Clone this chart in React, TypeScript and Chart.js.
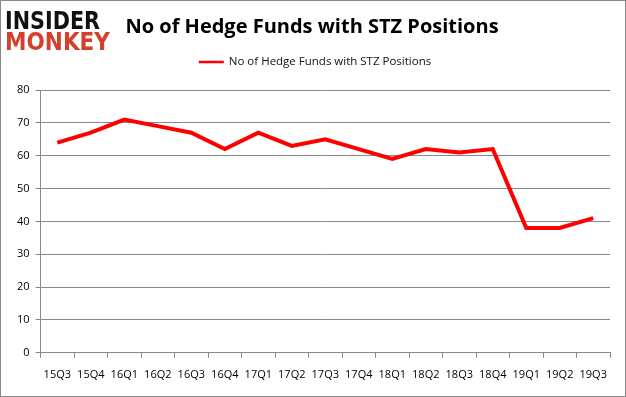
import React, { useEffect, useRef } from "react";
import { Chart, registerables } from "chart.js";

Chart.register(...registerables);

const categories = ["15Q3", "15Q4", "16Q1", "16Q2", "16Q3", "16Q4", "17Q1", "17Q2", "17Q3", "17Q4", "18Q1", "18Q2", "18Q3", "18Q4", "19Q1", "19Q2", "19Q3"];
const hedgeFunds = [64, 67, 71, 69, 67, 62, 67, 63, 65, 62, 59, 62, 61, 62, 38, 38, 41];
const seriesName = "No of Hedge Funds with STZ Positions";
const titleText = "No of Hedge Funds with STZ Positions";
const logoTop = "INSIDER";
const logoBottom = "MONKEY";

const FONT = "'Open Sans', 'Noto Sans', sans-serif";

const headerPlugin = {
  id: "header",
  afterDraw(chart: any) {
    const ctx = chart.ctx;
    const W = chart.width;
    ctx.save();
    // logo
    ctx.textBaseline = "alphabetic";
    ctx.textAlign = "left";
    const drawFit = (text: string, x: number, y: number, w: number, color: string) => {
      ctx.font = `900 25px 'DejaVu Sans', sans-serif`;
      const m = ctx.measureText(text).width;
      ctx.save();
      ctx.translate(x, y);
      ctx.scale(w / m, 1);
      ctx.fillStyle = color;
      ctx.fillText(text, 0, 0);
      ctx.restore();
    };
    drawFit(logoTop, 4, 28, 95, "#111111");
    drawFit(logoBottom, 4, 49, 105, "#d4402b");

    // title
    ctx.font = `bold 20px ${FONT}`;
    ctx.fillStyle = "#000000";
    ctx.textAlign = "center";
    ctx.textBaseline = "middle";
    ctx.fillText(titleText, 311, 26);

    // legend
    const ds = chart.data.datasets[0];
    ctx.font = `11.5px ${FONT}`;
    const tw = ctx.measureText(ds.label).width;
    const lineW = 25;
    const gap = 5;
    const total = lineW + gap + tw;
    const x0 = W / 2 + 2 - total / 2;
    const y = 61;
    ctx.strokeStyle = ds.borderColor;
    ctx.lineWidth = 2.5;
    ctx.beginPath();
    ctx.moveTo(x0, y);
    ctx.lineTo(x0 + lineW, y);
    ctx.stroke();
    ctx.fillStyle = "#111111";
    ctx.textAlign = "left";
    ctx.fillText(ds.label, x0 + lineW + gap, y);
    ctx.restore();
  },
};

export default function App() {
  const ref = useRef<HTMLCanvasElement | null>(null);
  useEffect(() => {
    document.body.style.margin = "0";
    const chart = new Chart(ref.current!, {
      type: "line",
      data: {
        labels: categories,
        datasets: [
          {
            label: seriesName,
            data: hedgeFunds,
            borderColor: "#ff0000",
            backgroundColor: "#ff0000",
            borderWidth: 4,
            pointRadius: 0,
            tension: 0,
          },
        ],
      },
      options: {
        animation: false,
        responsive: false,
        maintainAspectRatio: false,
        layout: { padding: { top: 89, right: 15, left: 10, bottom: 5 } },
        plugins: {
          title: { display: false },
          legend: { display: false },
          tooltip: { enabled: false },
        },
        scales: {
          x: {
            offset: true,
            grid: {
              offset: true,
              drawOnChartArea: false,
              drawTicks: true,
              tickLength: 5,
              color: "#888888",
            },
            border: { display: true, color: "#888888" },
            ticks: {
              color: "#000000",
              font: { family: FONT, size: 11 },
              padding: 10,
              maxRotation: 0,
              autoSkip: false,
            },
          },
          y: {
            min: 0,
            max: 80,
            ticks: {
              stepSize: 10,
              color: "#000000",
              font: { family: FONT, size: 11 },
              padding: 6,
            },
            grid: { color: "#888888", tickLength: 5 },
            border: { display: true, color: "#888888" },
          },
        },
      },
      plugins: [headerPlugin],
    });
    return () => chart.destroy();
  }, []);
  return (
    <div style={{ width: 624, height: 395, border: "1px solid #888888", background: "#ffffff" }}>
      <canvas ref={ref} width={624} height={395} style={{ display: "block" }} />
    </div>
  );
}
